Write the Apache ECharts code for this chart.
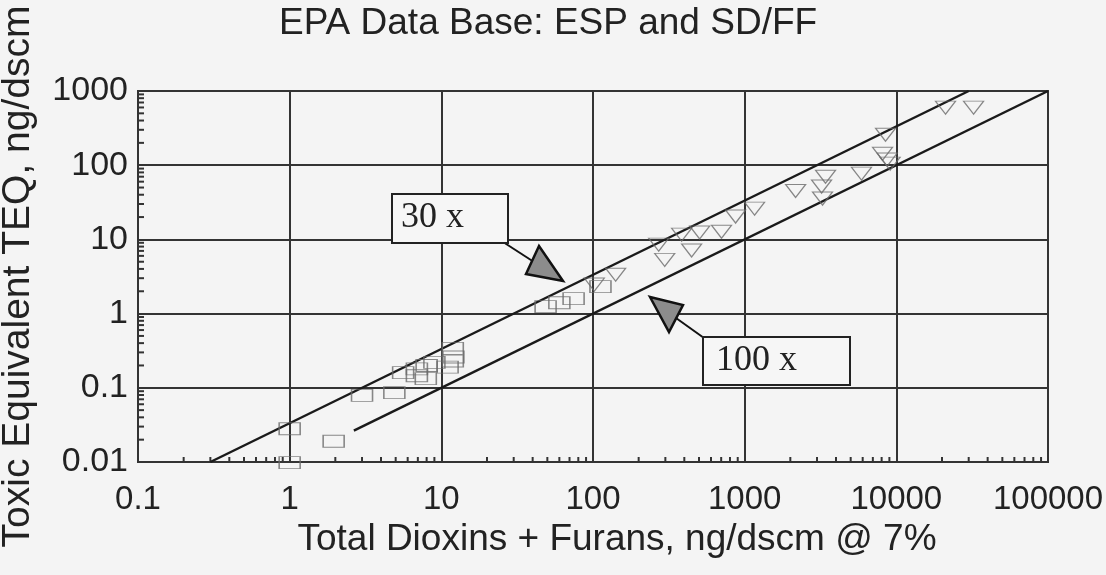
<!DOCTYPE html>
<html>
<head>
<meta charset="utf-8">
<script src="https://cdn.jsdelivr.net/npm/echarts@6/dist/echarts.min.js"></script>
<style>
html,body{margin:0;padding:0;background:#f4f4f4;}
#chart{width:1106px;height:575px;}
</style>
</head>
<body>
<div id="chart"></div>
<script>
// ---------- data ----------
const xTickLabels = ['0.1', '1', '10', '100', '1000', '10000', '100000'];
const yTickLabels = ['0.01', '0.1', '1', '10', '100', '1000'];
const minorMultipliers = [2, 3, 4, 5, 6, 7, 8, 9];

// squares (SD/FF)
const squareX = [1.0, 1.0, 1.95, 3.0, 4.9, 5.6, 6.9, 6.9, 7.9, 8.0, 9.0, 11, 11.9, 11.9, 12, 48.7, 60, 74.5, 112];
const squareY = [0.0098, 0.028, 0.019, 0.079, 0.086, 0.16, 0.18, 0.145, 0.133, 0.2, 0.22, 0.19, 0.23, 0.34, 0.26, 1.24, 1.4, 1.59, 2.31];

// inverted triangles (ESP)
const triX = [102, 141, 297, 271, 447, 384, 505, 704, 871, 1162, 2168, 3214, 3414, 3260, 5890, 8490, 8110, 8700, 9100, 21100, 32300];
const triY = [2.46, 3.35, 5.3, 8.5, 7.1, 11.6, 12.4, 12.7, 20.3, 26, 45, 51.5, 70, 35.5, 77, 257, 143, 119, 105, 597, 597];

// ratio reference lines
const line30X = [0.3, 30000];
const line30Y = [0.01, 1000];
const line100X = [2.65, 100000];
const line100Y = [0.0265, 1000];

// ---------- build ----------
const zip = (a, b) => a.map((v, i) => [v, b[i]]);
const xMinorVals = [], yMinorVals = [];
for (let e = -1; e < 5; e++) minorMultipliers.forEach(m => xMinorVals.push(m * Math.pow(10, e)));
for (let e = -2; e < 3; e++) minorMultipliers.forEach(m => yMinorVals.push(m * Math.pow(10, e)));
const labelFor = (arr, base) => v => arr[Math.round(Math.log10(v)) - base] ?? '';

const FONT = 'Liberation Sans, Arial, sans-serif';
const SERIF = '36px "Liberation Serif", "Times New Roman", serif';
const chart = echarts.init(document.getElementById('chart'));
chart.setOption({
  backgroundColor: '#f4f4f4',
  animation: false,
  title: {
    text: 'EPA Data Base: ESP and SD/FF',
    left: 274, top: 0,
    textStyle: {fontFamily: FONT, fontSize: 37, fontWeight: 'normal', color: '#222'}
  },
  grid: {left: 138, right: 58, top: 91, bottom: 113, show: true, borderColor: '#333', borderWidth: 2,
         backgroundColor: 'transparent', outerBoundsMode: 'none', containLabel: false},
  xAxis: {
    type: 'log', logBase: 10, min: 0.1, max: 100000,
    name: 'Total Dioxins + Furans, ng/dscm @ 7%',
    nameLocation: 'middle', nameGap: 57,
    nameTextStyle: {fontFamily: FONT, fontSize: 37, color: '#222', padding: [0, 0, 0, 48]},
    axisLine: {show: true, lineStyle: {color: '#333', width: 2}},
    axisTick: {show: false},
    axisLabel: {fontFamily: FONT, fontSize: 33, color: '#222', margin: 21, formatter: labelFor(xTickLabels, -1)},
    splitLine: {show: true, lineStyle: {color: '#333', width: 2}}
  },
  yAxis: {
    type: 'log', logBase: 10, min: 0.01, max: 1000,
    name: 'Toxic Equivalent TEQ, ng/dscm',
    nameLocation: 'middle', nameGap: 100,
    nameTextStyle: {fontFamily: FONT, fontSize: 39, color: '#222'},
    axisLine: {show: true, lineStyle: {color: '#333', width: 2}},
    axisTick: {show: false},
    axisLabel: {fontFamily: FONT, fontSize: 34, color: '#222', margin: 10, formatter: labelFor(yTickLabels, -2)},
    splitLine: {show: true, lineStyle: {color: '#333', width: 2}}
  },
  series: [
    {
      type: 'custom', silent: true, clip: false,
      data: xMinorVals.map(v => [v]),
      renderItem: (params, api) => {
        const p = api.coord([api.value(0), 0.01]);
        return {type: 'line', shape: {x1: p[0], y1: p[1], x2: p[0], y2: p[1] - 5}, style: {stroke: '#333', lineWidth: 2}};
      }
    },
    {
      type: 'custom', silent: true, clip: false,
      data: yMinorVals.map(v => [v]),
      renderItem: (params, api) => {
        const p = api.coord([0.1, api.value(0)]);
        return {type: 'line', shape: {x1: p[0], y1: p[1], x2: p[0] + 6, y2: p[1]}, style: {stroke: '#333', lineWidth: 2}};
      },
      encode: {x: -1, y: 0}
    },
    {
      name: '30 x', type: 'line', data: zip(line30X, line30Y), symbol: 'none',
      lineStyle: {color: '#1a1a1a', width: 2.5}, z: 3
    },
    {
      name: '100 x', type: 'line', data: zip(line100X, line100Y), symbol: 'none',
      lineStyle: {color: '#1a1a1a', width: 2.5}, z: 3
    },
    {
      name: 'SD/FF', type: 'scatter', data: zip(squareX, squareY), clip: false,
      symbol: 'rect', symbolSize: [21, 12],
      itemStyle: {color: 'transparent', borderColor: '#6a6a6a', borderWidth: 1.2}, z: 4
    },
    {
      name: 'ESP', type: 'scatter', data: zip(triX, triY), clip: false,
      symbol: 'triangle', symbolRotate: 180, symbolSize: [20, 13],
      itemStyle: {color: 'transparent', borderColor: '#6a6a6a', borderWidth: 1.2}, z: 4
    }
  ],
  graphic: [
    // 30 x callout
    {type: 'line', shape: {x1: 500, y1: 240, x2: 534, y2: 262}, style: {stroke: '#111', lineWidth: 2}, z: 10},
    {type: 'polygon', shape: {points: [[539, 246], [526, 274], [563, 281]]}, style: {fill: '#8c8c8c', stroke: '#111', lineWidth: 2.5}, z: 10},
    {type: 'rect', shape: {x: 392, y: 194, width: 116, height: 49}, style: {fill: '#f6f6f6', stroke: '#222', lineWidth: 2}, z: 10},
    {type: 'text', x: 401, y: 200, style: {text: '30 x', font: SERIF, fill: '#222'}, z: 11},
    // 100 x callout
    {type: 'line', shape: {x1: 676, y1: 318, x2: 704, y2: 338}, style: {stroke: '#111', lineWidth: 2}, z: 10},
    {type: 'polygon', shape: {points: [[650, 297], [683, 305], [669, 332]]}, style: {fill: '#8c8c8c', stroke: '#111', lineWidth: 2.5}, z: 10},
    {type: 'rect', shape: {x: 703, y: 337, width: 147, height: 48}, style: {fill: '#f6f6f6', stroke: '#222', lineWidth: 2}, z: 10},
    {type: 'text', x: 716, y: 343, style: {text: '100 x', font: SERIF, fill: '#222'}, z: 11}
  ]
});
</script>
</body>
</html>
